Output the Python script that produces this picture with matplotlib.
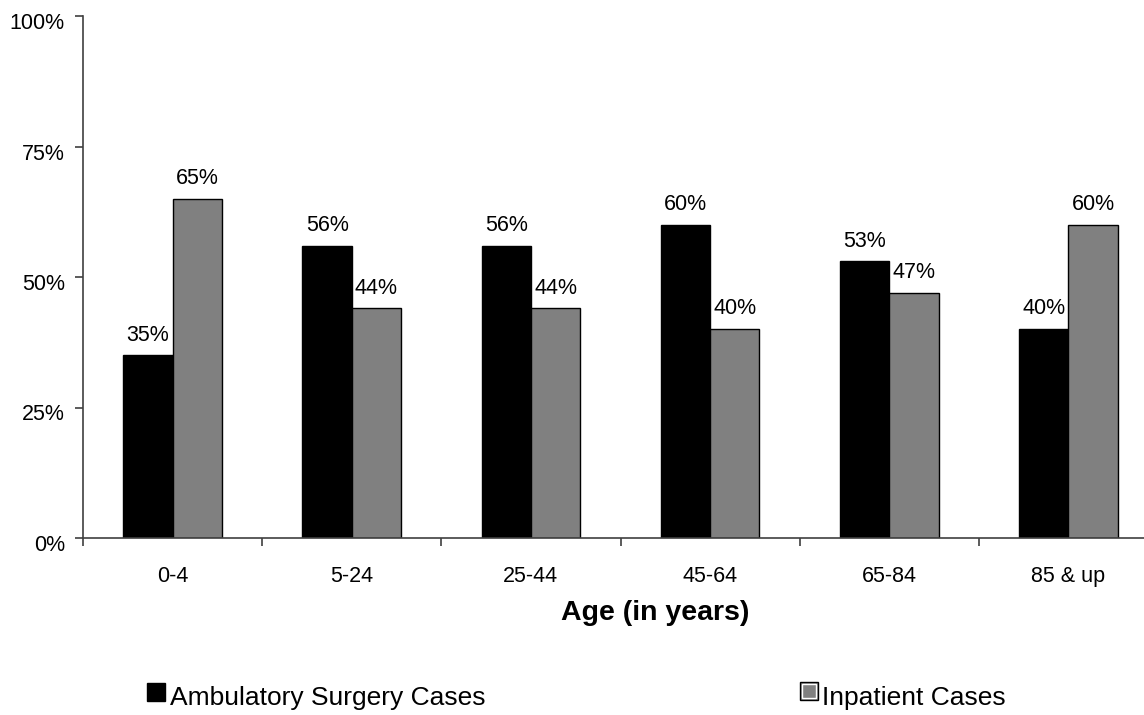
import numpy as np
import matplotlib.pyplot as plt
import matplotlib.transforms as mtransforms
from matplotlib.patches import Rectangle

plt.rcParams['font.family'] = ['Liberation Sans', 'DejaVu Sans']

age_groups = ['0-4', '5-24', '25-44', '45-64', '65-84', '85 & up']
ambulatory = [35, 56, 56, 60, 53, 40]
inpatient = [65, 44, 44, 40, 47, 60]

W, H = 1144, 715
fig = plt.figure(figsize=(W / 100, H / 100), dpi=100)
# axis runs past the right edge of the figure
ax = fig.add_axes([83 / W, 1 - 538 / H, 1075 / W, 522 / H])

x = np.arange(len(age_groups))
w = 0.275
b1 = ax.bar(x - w / 2, ambulatory, w, color='black', edgecolor='black', linewidth=1)
b2 = ax.bar(x + w / 2, inpatient, w, color='#808080', edgecolor='black', linewidth=1)

for bars, vals in ((b1, ambulatory), (b2, inpatient)):
    for r, v in zip(bars, vals):
        ax.annotate(f'{v}%', (r.get_x() + r.get_width() / 2, v),
                    xytext=(0, 7), textcoords='offset points',
                    ha='center', va='bottom', fontsize=15.5)

ax.set_xlim(-0.5, len(age_groups) - 0.5)
ax.set_ylim(0, 100)
ax.set_yticks([0, 25, 50, 75, 100])
ax.set_yticklabels([f'{t}%' for t in [0, 25, 50, 75, 100]], fontsize=15.5)
ax.set_xticks(x)
ax.set_xticklabels(age_groups, fontsize=15.5)
ax.set_xticks(np.arange(len(age_groups) + 1) - 0.5, minor=True)
ax.tick_params(axis='x', which='major', length=0, pad=20)
ax.tick_params(axis='x', which='minor', length=6, width=1.2, color='#404040')
ax.tick_params(axis='y', length=6, width=1.2, color='#404040', pad=7)
shift = mtransforms.ScaledTranslation(0, -5 / 100, fig.dpi_scale_trans)
for lbl in ax.get_yticklabels():
    lbl.set_transform(lbl.get_transform() + shift)
for s in ('top', 'right'):
    ax.spines[s].set_visible(False)
for s in ('left', 'bottom'):
    ax.spines[s].set_color('#404040')
    ax.spines[s].set_linewidth(1.2)

fig.text(655 / W, 1 - 613 / H, 'Age (in years)', ha='center', va='center',
         fontsize=20.5, fontweight='bold')

# legend entries
fig.patches.append(Rectangle((147 / W, 1 - 701 / H), 18 / W, 18 / H,
                             transform=fig.transFigure, facecolor='black',
                             edgecolor='black'))
fig.text(170 / W, 1 - 705 / H, 'Ambulatory Surgery Cases', ha='left',
         va='baseline', fontsize=19)
fig.patches.append(Rectangle((800 / W, 1 - 700 / H), 18 / W, 18 / H,
                             transform=fig.transFigure, facecolor='#808080',
                             edgecolor='black', linewidth=1))
fig.patches.append(Rectangle((802 / W, 1 - 698 / H), 14 / W, 14 / H,
                             transform=fig.transFigure, facecolor='none',
                             edgecolor='white', linewidth=1))
fig.text(822 / W, 1 - 705 / H, 'Inpatient Cases', ha='left',
         va='baseline', fontsize=19)

fig.savefig('out.png', dpi=100)
